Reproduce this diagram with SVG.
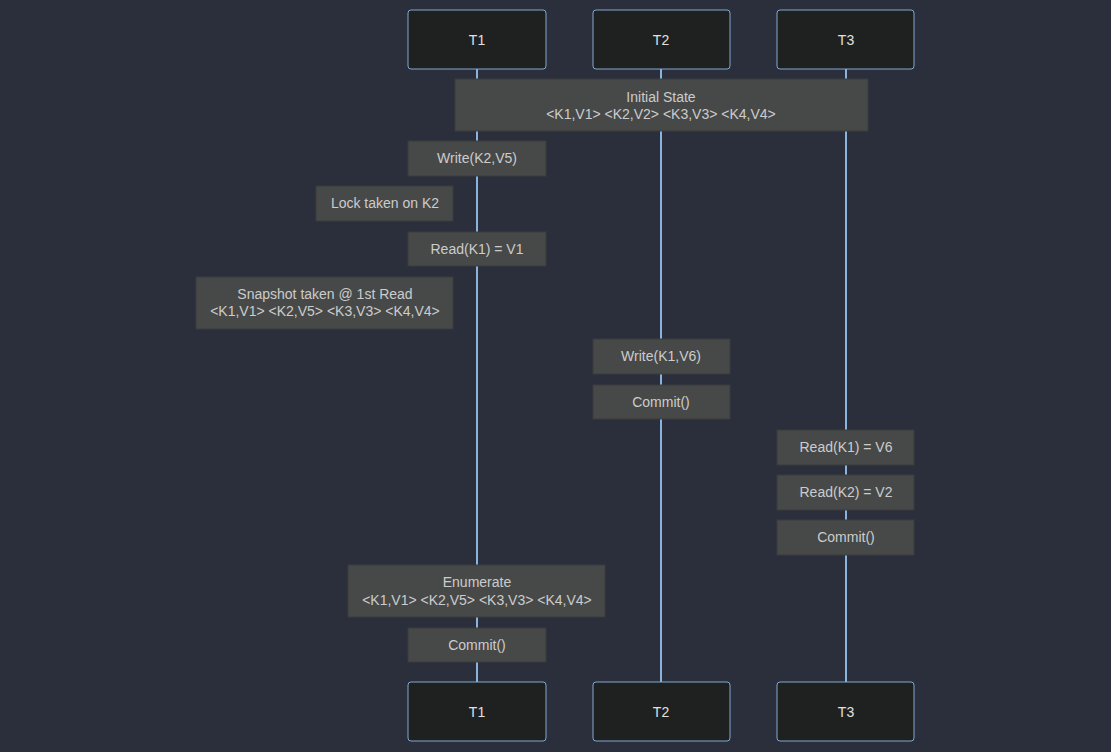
<svg xmlns="http://www.w3.org/2000/svg" width="1111" height="752" viewBox="0 0 1111 752">
<style>
.actor rect{fill:#1f2020;stroke:#81a9d2;stroke-width:1}
.actor text{fill:#e0e0e0;font-family:"Liberation Sans",Arial,sans-serif;font-size:14px;text-anchor:middle;dominant-baseline:central}
.note rect{fill:#474949;stroke:#3b3d3d;stroke-width:1}
.note text{fill:#cccccc;font-family:"Liberation Sans",Arial,sans-serif;font-size:14px;text-anchor:middle;dominant-baseline:central}
.lifeline{stroke:#89b4dd;stroke-width:2}
</style>
<rect width="1111" height="752" fill="#2a2f3b"/>
<g id="connectors">
<line class="lifeline" x1="477" y1="69" x2="477" y2="682"/>
<line class="lifeline" x1="661" y1="69" x2="661" y2="682"/>
<line class="lifeline" x1="846" y1="69" x2="846" y2="682"/>
</g>
<g id="actor-T1-top" class="actor"><rect x="408" y="10" width="138" height="59" rx="3"/><text x="477" y="40">T1</text></g>
<g id="actor-T2-top" class="actor"><rect x="593" y="10" width="137" height="59" rx="3"/><text x="661" y="40">T2</text></g>
<g id="actor-T3-top" class="actor"><rect x="777" y="10" width="137" height="59" rx="3"/><text x="846" y="40">T3</text></g>
<g id="actor-T1-bottom" class="actor"><rect x="408" y="682" width="138" height="59" rx="3"/><text x="477" y="712">T1</text></g>
<g id="actor-T2-bottom" class="actor"><rect x="593" y="682" width="137" height="59" rx="3"/><text x="661" y="712">T2</text></g>
<g id="actor-T3-bottom" class="actor"><rect x="777" y="682" width="137" height="59" rx="3"/><text x="846" y="712">T3</text></g>
<g id="note-initial" class="note"><rect x="455" y="79" width="413" height="52"/><text x="661" y="97">Initial State</text><text x="661" y="114">&lt;K1,V1&gt; &lt;K2,V2&gt; &lt;K3,V3&gt; &lt;K4,V4&gt;</text></g>
<g id="note-write-k2" class="note"><rect x="408" y="141" width="138" height="35"/><text x="477" y="158">Write(K2,V5)</text></g>
<g id="note-lock" class="note"><rect x="316" y="186" width="137" height="35"/><text x="385" y="203">Lock taken on K2</text></g>
<g id="note-read-k1-t1" class="note"><rect x="408" y="232" width="138" height="34"/><text x="477" y="249">Read(K1) = V1</text></g>
<g id="note-snapshot" class="note"><rect x="196" y="277" width="257" height="52"/><text x="325" y="294">Snapshot taken @ 1st Read</text><text x="325" y="311">&lt;K1,V1&gt; &lt;K2,V5&gt; &lt;K3,V3&gt; &lt;K4,V4&gt;</text></g>
<g id="note-write-k1" class="note"><rect x="593" y="339" width="137" height="35"/><text x="661" y="356">Write(K1,V6)</text></g>
<g id="note-commit-t2" class="note"><rect x="593" y="385" width="137" height="34"/><text x="661" y="402">Commit()</text></g>
<g id="note-read-k1-t3" class="note"><rect x="777" y="430" width="137" height="35"/><text x="846" y="447">Read(K1) = V6</text></g>
<g id="note-read-k2-t3" class="note"><rect x="777" y="475" width="137" height="35"/><text x="846" y="492">Read(K2) = V2</text></g>
<g id="note-commit-t3" class="note"><rect x="777" y="520" width="137" height="35"/><text x="846" y="537">Commit()</text></g>
<g id="note-enumerate" class="note"><rect x="348" y="565" width="257" height="52"/><text x="477" y="582">Enumerate</text><text x="477" y="600">&lt;K1,V1&gt; &lt;K2,V5&gt; &lt;K3,V3&gt; &lt;K4,V4&gt;</text></g>
<g id="note-commit-t1" class="note"><rect x="408" y="628" width="138" height="34"/><text x="477" y="645">Commit()</text></g>
</svg>
